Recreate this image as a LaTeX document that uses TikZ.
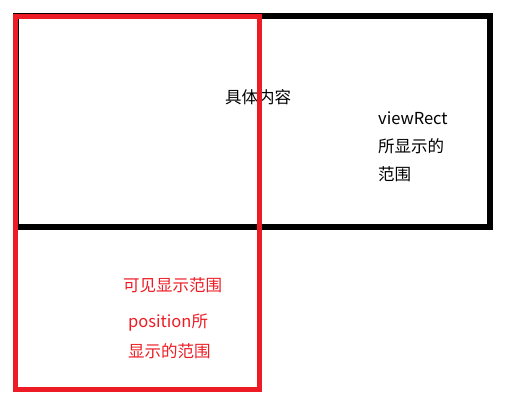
\documentclass[tikz,border=0pt]{standalone}
\usepackage{fontspec}
\newfontfamily\cjk{Noto Sans CJK SC}
\definecolor{paintred}{HTML}{ED1C24}
\begin{document}
\begin{tikzpicture}[x=1pt,y=-1pt,
  blackbox/.style={draw=black,line width=6pt},
  redbox/.style={draw=paintred,line width=5pt},
  lbl/.style={inner sep=0pt,anchor=west,font={\cjk\fontsize{16.5}{20}\selectfont}},
  redlbl/.style={lbl,text=paintred}]
\useasboundingbox (0,0) rectangle (530,419);
\draw[blackbox] (15.5,16) rectangle (490,227);
\node[lbl] (content) at (225,97) {具体内容};
\node[lbl] (v1) at (378,118) {viewRect};
\node[lbl] (v2) at (378,146) {所显示的};
\node[lbl] (v3) at (378,174) {范围};
\node[redlbl] (r1) at (123,285) {可见显示范围};
\node[redlbl] (r2) at (128,323) {position所};
\node[redlbl] (r3) at (128,351) {显示的范围};
\draw[redbox] (15.5,16.5) rectangle (259.5,390);
\end{tikzpicture}
\end{document}
